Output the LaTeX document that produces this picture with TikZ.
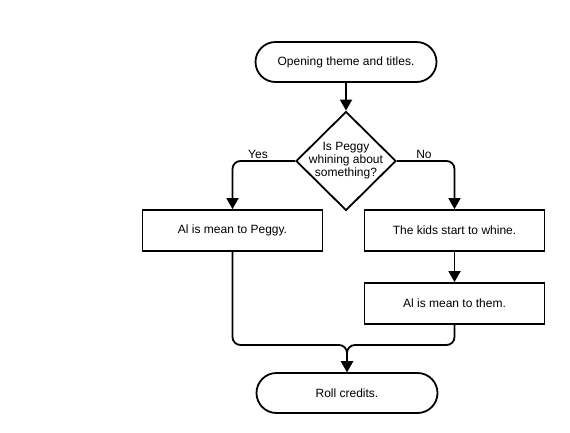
\documentclass[tikz,border=0pt]{standalone}
\usepackage{fontspec}
\setmainfont{Liberation Sans}
\usetikzlibrary{arrows.meta,shapes.geometric}
\begin{document}
\begin{tikzpicture}[x=1pt,y=-1pt,
  every node/.style={font=\fontsize{12}{14}\selectfont},
  term/.style={draw, line width=1.8pt, rounded corners=20pt, minimum width=181pt, minimum height=40pt, inner sep=0pt},
  proc/.style={draw, line width=1.8pt, minimum width=180pt, minimum height=41pt, inner sep=0pt},
  dec/.style={draw, line width=1.8pt, shape=diamond, minimum width=100pt, minimum height=99pt, inner sep=0pt},
  conn/.style={line width=1.8pt, rounded corners=8pt, -{Triangle[length=11pt,width=12pt]}},
  lbl/.style={inner sep=0pt}]
\useasboundingbox (0,0) rectangle (570,433);
\node[term] (open) at (346,62) {Opening theme and titles.};
\node[dec] (d) at (346,161) {};
\node[lbl, align=center, font=\fontsize{12}{13}\selectfont] (dt) at (346,160.5) {Is Peggy\\whining about\\something?};
\node[proc] (al) at (232.5,230.5) {Al is mean to Peggy.};
\node[proc] (kids) at (454.5,230.5) {The kids start to whine.};
\node[proc] (them) at (454.5,303.5) {Al is mean to them.};
\node[term] (roll) at (347,393) {Roll credits.};
\coordinate (m) at (347,345);
\node[lbl] (yes) at (258,154) {Yes};
\node[lbl] (no) at (424,154) {No};
\draw[conn] (open.south) -- (d.north);
\draw[conn] (d.west) -| (al.north);
\draw[conn] (d.east) -| (kids.north);
\draw[conn] (kids.south) -- (them.north);
\draw[conn] (al.south) |- (m) -- (roll.north);
\draw[conn] (them.south) |- (m) -- (roll.north);
\end{tikzpicture}
\end{document}
